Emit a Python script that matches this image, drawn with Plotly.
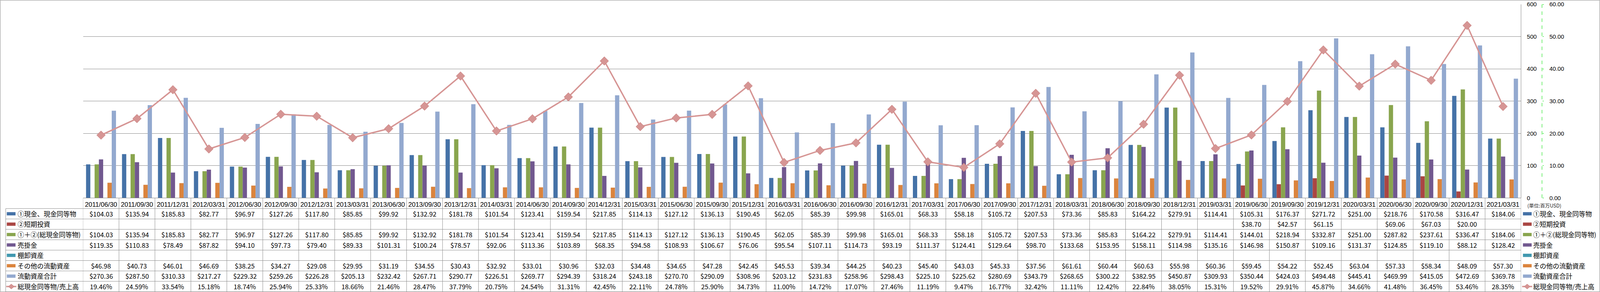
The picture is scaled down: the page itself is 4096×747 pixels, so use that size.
import plotly.graph_objects as go

# ---------------- data ----------------
dates = ["2011/06/30", "2011/09/30", "2011/12/31", "2012/03/31", "2012/06/30", "2012/09/30",
         "2012/12/31", "2013/03/31", "2013/06/30", "2013/09/30", "2013/12/31", "2014/03/31",
         "2014/06/30", "2014/09/30", "2014/12/31", "2015/03/31", "2015/06/30", "2015/09/30",
         "2015/12/31", "2016/03/31", "2016/06/30", "2016/09/30", "2016/12/31", "2017/03/31",
         "2017/06/30", "2017/09/30", "2017/12/31", "2018/03/31", "2018/06/30", "2018/09/30",
         "2018/12/31", "2019/03/31", "2019/06/30", "2019/09/30", "2019/12/31", "2020/03/31",
         "2020/06/30", "2020/09/30", "2020/12/31", "2021/03/31"]

cash = [104.03, 135.94, 185.83, 82.77, 96.97, 127.26, 117.80, 85.85, 99.92, 132.92,
        181.78, 101.54, 123.41, 159.54, 217.85, 114.13, 127.12, 136.13, 190.45, 62.05,
        85.39, 99.98, 165.01, 68.33, 58.18, 105.72, 207.53, 73.36, 85.83, 164.22,
        279.91, 114.41, 105.31, 176.37, 271.72, 251.00, 218.76, 170.58, 316.47, 184.06]

short_inv = [None, None, None, None, None, None, None, None, None, None,
             None, None, None, None, None, None, None, None, None, None,
             None, None, None, None, None, None, None, None, None, None,
             None, None, 38.70, 42.57, 61.15, None, 69.06, 67.03, 20.00, None]

total_cash = [104.03, 135.94, 185.83, 82.77, 96.97, 127.26, 117.80, 85.85, 99.92, 132.92,
              181.78, 101.54, 123.41, 159.54, 217.85, 114.13, 127.12, 136.13, 190.45, 62.05,
              85.39, 99.98, 165.01, 68.33, 58.18, 105.72, 207.53, 73.36, 85.83, 164.22,
              279.91, 114.41, 144.01, 218.94, 332.87, 251.00, 287.82, 237.61, 336.47, 184.06]

receivables = [119.35, 110.83, 78.49, 87.82, 94.10, 97.73, 79.40, 89.33, 101.31, 100.24,
               78.57, 92.06, 113.36, 103.89, 68.35, 94.58, 108.93, 106.67, 76.06, 95.54,
               107.11, 114.73, 93.19, 111.37, 124.41, 129.64, 98.70, 133.68, 153.95, 158.11,
               114.98, 135.16, 146.98, 150.87, 109.16, 131.37, 124.85, 119.10, 88.12, 128.42]

inventory = [None] * 40

other_ca = [46.98, 40.73, 46.01, 46.69, 38.25, 34.27, 29.08, 29.95, 31.19, 34.55,
            30.43, 32.92, 33.01, 30.96, 32.03, 34.48, 34.65, 47.28, 42.45, 45.53,
            39.34, 44.25, 40.23, 45.40, 43.03, 45.33, 37.56, 61.61, 60.44, 60.63,
            55.98, 60.36, 59.45, 54.22, 52.45, 63.04, 57.33, 58.34, 48.09, 57.30]

total_ca = [270.36, 287.50, 310.33, 217.27, 229.32, 259.26, 226.28, 205.13, 232.42, 267.71,
            290.77, 226.51, 269.77, 294.39, 318.24, 243.18, 270.70, 290.09, 308.96, 203.12,
            231.83, 258.96, 298.43, 225.10, 225.62, 280.69, 343.79, 268.65, 300.22, 382.95,
            450.87, 309.93, 350.44, 424.03, 494.48, 445.41, 469.99, 415.05, 472.69, 369.78]

cash_ratio = [19.46, 24.59, 33.54, 15.18, 18.74, 25.94, 25.33, 18.66, 21.46, 28.47,
              37.79, 20.75, 24.54, 31.31, 42.45, 22.11, 24.78, 25.90, 34.73, 11.00,
              14.72, 17.07, 27.46, 11.19, 9.47, 16.77, 32.42, 11.11, 12.42, 22.84,
              38.05, 15.31, 19.52, 29.91, 45.87, 34.66, 41.48, 36.45, 53.46, 28.35]

series_names = ["①現金、現金同等物", "②短期投資", "①＋②(総現金同等物)", "売掛金",
                "棚卸資産", "その他の流動資産", "流動資産合計"]
ratio_name = "総現金同等物/売上高"
unit_label = "(単位:百万USD)"
usd_ticks = [0, 100, 200, 300, 400, 500, 600]
pct_ticks = [0, 10, 20, 30, 40, 50, 60]

# ---------------- style / layout ----------------
bar_series = [cash, short_inv, total_cash, receivables, inventory, other_ca, total_ca]
colors = ["#4572A7", "#AA4643", "#89A54E", "#71588F", "#4198AF", "#DB843D", "#93A9CF"]
line_color = "#D69594"

FW, FH = 5876.0, 1071.0           # reference geometry
def px(x):
    return x / FW
def py(y):
    return 1 - y / FH

FONT = "Noto Sans CJK JP"
AXFONT = "Liberation Sans"
FS = 16.7
GRID = "#868686"
TLINE = "#8C8C8C"

plot_x0, plot_x1 = 305, 5586
plot_y0, plot_y1 = 16, 726          # top ($600) and bottom ($0)
axis_x = 5663
row_top = 765
row_h = 38.125
n_rows = 8

fig = go.Figure()

slot = 0.119
group_left = -0.4165
for i, (vals, name, col) in enumerate(zip(bar_series, series_names, colors)):
    fig.add_trace(go.Bar(
        x=dates, y=vals, name=name, marker=dict(color=col, line=dict(width=0)),
        width=slot, offset=group_left + i * slot, yaxis="y", showlegend=False))

fig.add_trace(go.Scatter(
    x=dates, y=cash_ratio, name=ratio_name, yaxis="y2", mode="lines+markers",
    line=dict(color=line_color, width=3.6),
    marker=dict(symbol="diamond", size=17, color=line_color,
                line=dict(color="#C98180", width=1)),
    showlegend=False))

shapes = []
annotations = []

# plot right border
shapes.append(dict(type="line", xref="paper", yref="paper", x0=px(plot_x1), x1=px(plot_x1),
                   y0=py(plot_y0), y1=py(plot_y1), line=dict(color=GRID, width=1)))
# outer chart border
shapes.append(dict(type="rect", xref="paper", yref="paper", x0=0.0002, x1=0.9998, y0=0.0007, y1=0.9993,
                   line=dict(color="#8C8C8C", width=1)))
# green dashed axis line
shapes.append(dict(type="line", xref="paper", yref="paper", x0=px(axis_x), x1=px(axis_x),
                   y0=py(plot_y0), y1=py(plot_y1), line=dict(color="#00E000", width=1, dash="dash")))

# data table grid
tbl_bottom = row_top + row_h * n_rows
for k in range(len(dates) + 1):
    shapes.append(dict(type="line", xref="x", yref="paper", x0=k - 0.5, x1=k - 0.5,
                       y0=py(plot_y1), y1=py(tbl_bottom), line=dict(color=TLINE, width=1)))
for r in range(n_rows + 1):
    yy = py(row_top + r * row_h)
    shapes.append(dict(type="line", xref="paper", yref="paper", x0=px(21), x1=px(plot_x1),
                       y0=yy, y1=yy, line=dict(color=TLINE, width=1)))
shapes.append(dict(type="line", xref="paper", yref="paper", x0=px(21), x1=px(21),
                   y0=py(row_top), y1=py(tbl_bottom), line=dict(color=TLINE, width=1)))

def key(xl, xr, yc, col):
    shapes.append(dict(type="rect", xref="paper", yref="paper", x0=px(xl), x1=px(xr),
                       y0=py(yc - 6), y1=py(yc + 6), line=dict(width=0), fillcolor=col))

def line_key(xl, xr, yc):
    shapes.append(dict(type="line", xref="paper", yref="paper", x0=px(xl), x1=px(xr),
                       y0=py(yc), y1=py(yc), line=dict(color=line_color, width=3.5)))
    cx = (xl + xr) / 2
    d = 9
    path = (f"M {px(cx - d*1.2)},{py(yc)} L {px(cx)},{py(yc - d)} "
            f"L {px(cx + d*1.2)},{py(yc)} L {px(cx)},{py(yc + d)} Z")
    shapes.append(dict(type="path", xref="paper", yref="paper", path=path,
                       fillcolor=line_color, line=dict(color="#C98180", width=1)))

row_values = bar_series + [cash_ratio]
row_labels = series_names + [ratio_name]
for r in range(n_rows):
    yc = row_top + (r + 0.5) * row_h
    if r < 7:
        key(25, 57, yc, colors[r])
        key(5593, 5625, yc, colors[r])
    else:
        line_key(23, 60, yc)
        line_key(5590, 5627, yc)
    annotations.append(dict(x=px(61), y=py(yc), xref="paper", yref="paper", text=row_labels[r],
                            showarrow=False, xanchor="left", yanchor="middle",
                            font=dict(family=FONT, size=FS, color="#000000")))
    annotations.append(dict(x=px(5628), y=py(yc), xref="paper", yref="paper", text=row_labels[r],
                            showarrow=False, xanchor="left", yanchor="middle",
                            font=dict(family=FONT, size=FS, color="#000000")))
    for c, d in enumerate(dates):
        v = row_values[r][c]
        if v is None:
            continue
        txt = f"{v:.2f}%" if r == 7 else f"${v:,.2f}"
        annotations.append(dict(x=d, y=py(yc), xref="x", yref="paper", text=txt,
                                showarrow=False, xanchor="center", yanchor="middle",
                                font=dict(family=FONT, size=FS, color="#000000")))

annotations.append(dict(x=px(5606), y=py(754), xref="paper", yref="paper", text=unit_label,
                        showarrow=False, xanchor="left", yanchor="middle",
                        font=dict(family=FONT, size=12.5, color="#222222")))

fig.update_layout(
    template="none",
    width=4096, height=747,
    margin=dict(l=0, r=0, t=0, b=0, pad=0),
    paper_bgcolor="#FFFFFF", plot_bgcolor="#FFFFFF",
    barmode="overlay",
    showlegend=False,
    font=dict(family=FONT, size=FS, color="#000000"),
    xaxis=dict(type="category", domain=[px(plot_x0), px(plot_x1)], range=[-0.5, len(dates) - 0.5],
               showgrid=False, showline=True, linecolor=GRID, linewidth=1, zeroline=False,
               ticks="", tickangle=0, tickmode="linear", dtick=1, automargin=False,
               tickfont=dict(family=AXFONT, size=FS, color="#000000"), ticklabelstandoff=2),
    yaxis=dict(domain=[py(plot_y1), py(plot_y0)], range=[0, 600], tickvals=usd_ticks,
               tickprefix="$", side="right", anchor="x",
               showgrid=True, gridcolor=GRID, gridwidth=1, zeroline=False, showline=False,
               ticks="", automargin=False, ticklabelstandoff=14, ticklabeloverflow="allow",
               tickfont=dict(family=AXFONT, size=15, color="#000000")),
    yaxis2=dict(domain=[py(plot_y1), py(plot_y0)], range=[0, 60], tickvals=pct_ticks,
                tickformat=".2f", ticksuffix="%", side="right", anchor="free", position=px(axis_x),
                overlaying="y", showgrid=False, zeroline=False, showline=False,
                ticks="outside", ticklen=3, tickcolor="#00E000", tickwidth=1,
                automargin=False, ticklabelstandoff=12, ticklabeloverflow="allow",
                tickfont=dict(family=AXFONT, size=15, color="#000000")),
    shapes=shapes,
    annotations=annotations,
)

fig.write_html("out.html", config={"displayModeBar": False},
               post_script="document.body.style.margin='0px';")
